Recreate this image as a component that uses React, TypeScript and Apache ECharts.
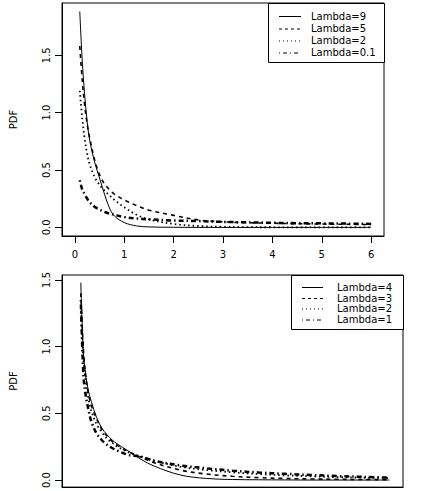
import React, { useEffect, useRef } from "react";
import * as echarts from "echarts";

const FONT = '"DejaVu Sans", "Liberation Sans", Arial, sans-serif';

// shared x grid
const xs = [0.1, 0.15, 0.2, 0.25, 0.3, 0.4, 0.5, 0.6, 0.7, 0.8, 1.0, 1.25, 1.5, 2.0, 2.5, 3.0, 3.5, 4.0, 4.5, 5.0, 5.5, 6.0];

// top panel
const topNames = ["Lambda=9", "Lambda=5", "Lambda=2", "Lambda=0.1"];
const topLambda9 = [1.88, 1.45, 1.15, 0.92, 0.76, 0.57, 0.43, 0.29, 0.17, 0.1, 0.042, 0.013, 0.004, 0.001, 0, 0, 0, 0, 0, 0, 0, 0];
const topLambda5 = [1.58, 1.28, 1.06, 0.9, 0.78, 0.59, 0.46, 0.38, 0.33, 0.29, 0.24, 0.19, 0.15, 0.105, 0.065, 0.048, 0.041, 0.036, 0.032, 0.029, 0.027, 0.025];
const topLambda2 = [1.19, 0.95, 0.77, 0.64, 0.55, 0.44, 0.37, 0.32, 0.28, 0.24, 0.175, 0.11, 0.07, 0.03, 0.012, 0.005, 0.002, 0.001, 0, 0, 0, 0];
const topLambda01 = [0.41, 0.33, 0.29, 0.25, 0.22, 0.18, 0.155, 0.135, 0.12, 0.11, 0.09, 0.078, 0.07, 0.06, 0.055, 0.048, 0.044, 0.04, 0.037, 0.035, 0.033, 0.03];

// bottom panel
const bottomNames = ["Lambda=4", "Lambda=3", "Lambda=2", "Lambda=1"];
const botLambda4 = [1.48, 0.95, 0.77, 0.66, 0.59, 0.47, 0.39, 0.34, 0.3, 0.27, 0.22, 0.155, 0.105, 0.038, 0.012, 0.004, 0.002, 0.001, 0, 0, 0, 0];
const botLambda3 = [1.4, 0.97, 0.76, 0.64, 0.56, 0.46, 0.38, 0.33, 0.29, 0.26, 0.215, 0.17, 0.13, 0.075, 0.045, 0.028, 0.018, 0.012, 0.008, 0.006, 0.004, 0.003];
const botLambda2 = [1.3, 0.9, 0.72, 0.6, 0.52, 0.42, 0.36, 0.31, 0.28, 0.25, 0.21, 0.175, 0.145, 0.1, 0.075, 0.058, 0.045, 0.035, 0.028, 0.022, 0.018, 0.015];
const botLambda1 = [1.35, 0.78, 0.62, 0.52, 0.44, 0.35, 0.3, 0.265, 0.24, 0.22, 0.19, 0.175, 0.145, 0.11, 0.088, 0.07, 0.057, 0.047, 0.038, 0.03, 0.024, 0.018];

const xTicks = [0, 1, 2, 3, 4, 5, 6];
const yTicks = [0, 0.5, 1, 1.5];

const styles: any[] = [
  { type: "solid", width: 1 },
  { type: [4, 4], width: 1.6 },
  { type: [1.5, 3], width: 1.8 },
  { type: [1.5, 3, 5, 3], width: 2.5 },
];
const legendDash: any[] = [null, [3, 3], [1, 3], [1, 3, 4, 3]];

const pair = (ys: number[]) => xs.map((x, i) => [x, ys[i]]);

export default function App() {
  const ref = useRef<HTMLDivElement>(null);
  useEffect(() => {
    if (!ref.current) return;
    const chart = echarts.init(ref.current, undefined, { renderer: "svg" });

    const xAxisCfg = (gridIndex: number, showLabels: boolean) => ({
      type: "value",
      gridIndex,
      min: -0.26,
      max: 6.26,
      axisLine: { show: true, onZero: false, lineStyle: { color: "#000", width: 1 } },
      axisTick: { show: showLabels, inside: false, length: 7, lineStyle: { color: "#000" }, customValues: xTicks },
      axisLabel: {
        show: showLabels,
        margin: 13,
        fontFamily: FONT,
        fontSize: 10,
        color: "#000",
        customValues: xTicks,
        formatter: (v: number) => String(v),
      },
      splitLine: { show: false },
    });

    const yAxisCfg = (gridIndex: number, min: number, max: number) => ({
      type: "value",
      gridIndex,
      min,
      max,
      name: "PDF",
      nameLocation: "middle",
      nameGap: 44,
      nameRotate: 90,
      nameTextStyle: { fontFamily: FONT, fontSize: 10, color: "#000" },
      axisLine: { show: true, onZero: false, lineStyle: { color: "#000", width: 1 } },
      axisTick: { show: true, inside: false, length: 7, lineStyle: { color: "#000" }, customValues: yTicks },
      axisLabel: {
        rotate: 90,
        margin: 11,
        fontFamily: FONT,
        fontSize: 10,
        color: "#000",
        customValues: yTicks,
        formatter: (v: number) => v.toFixed(1),
      },
      splitLine: { show: false },
    });

    const topData = [topLambda9, topLambda5, topLambda2, topLambda01];
    const botData = [botLambda4, botLambda3, botLambda2, botLambda1];

    const series: any[] = [];
    topData.forEach((d, i) =>
      series.push({
        type: "line",
        name: topNames[i],
        xAxisIndex: 0,
        yAxisIndex: 0,
        data: pair(d),
        symbol: "none",
        smooth: 0.35,
        lineStyle: { color: "#000", ...styles[i] },
      })
    );
    botData.forEach((d, i) =>
      series.push({
        type: "line",
        name: bottomNames[i],
        xAxisIndex: 1,
        yAxisIndex: 1,
        data: pair(d),
        symbol: "none",
        smooth: 0.35,
        lineStyle: { color: "#000", ...styles[i] },
      })
    );

    const legend = (
      names: string[],
      bx: number,
      by: number,
      bw: number,
      bh: number,
      lx1: number,
      lx2: number,
      tx: number,
      rows: number[]
    ) => {
      const children: any[] = [
        {
          type: "rect",
          shape: { x: bx + 0.5, y: by + 0.5, width: bw, height: bh },
          style: { fill: "#fff", stroke: "#000", lineWidth: 1 },
        },
      ];
      names.forEach((n, i) => {
        children.push({
          type: "line",
          shape: { x1: lx1, y1: rows[i] + 0.5, x2: lx2, y2: rows[i] + 0.5 },
          style: { stroke: "#000", lineWidth: 1, lineDash: legendDash[i] || undefined },
        });
        children.push({
          type: "text",
          x: tx,
          y: rows[i],
          style: {
            text: n,
            fontFamily: FONT,
            fontSize: 10,
            fill: "#000",
            verticalAlign: "middle",
            align: "left",
          },
        });
      });
      return { type: "group", z: 100, children };
    };

    chart.setOption({
      animation: false,
      backgroundColor: "#fff",
      grid: [
        { left: 58, top: 3, width: 326, height: 233, show: true, borderColor: "#000", borderWidth: 1, backgroundColor: "transparent" },
        { left: 58, top: 275, width: 345, height: 214, show: true, borderColor: "#000", borderWidth: 1, backgroundColor: "transparent" },
      ],
      xAxis: [xAxisCfg(0, true), xAxisCfg(1, false)],
      yAxis: [yAxisCfg(0, -0.075, 1.955), yAxisCfg(1, -0.053, 1.537)],
      series,
      graphic: [
        legend(topNames, 268, 3, 116, 59, 279, 301, 311, [16, 28.5, 40.5, 52.5]),
        legend(bottomNames, 291, 275, 112, 54, 302, 323, 337, [287, 298, 308.5, 319.5]),
      ],
    });

    return () => chart.dispose();
  }, []);

  return (
    <div
      ref={ref}
      style={{ position: "fixed", left: 0, top: 0, width: 428, height: 491, background: "#fff" }}
    />
  );
}
